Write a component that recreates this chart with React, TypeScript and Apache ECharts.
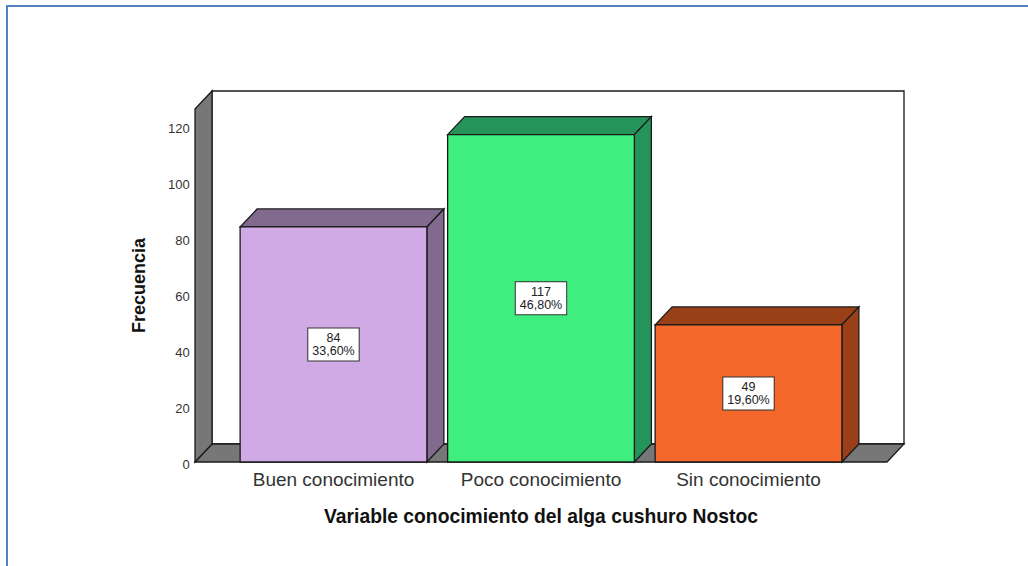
import React, { useEffect, useRef } from "react";
import * as echarts from "echarts";

const categories = ["Buen conocimiento", "Poco conocimiento", "Sin conocimiento"];
const counts = [84, 117, 49];
const percents = ["33,60%", "46,80%", "19,60%"];
const frontColors = ["#d0aae4", "#3fee7f", "#f4682b"];
const shadeColors = ["#816a8e", "#26935a", "#9a4018"];
const yTicks = [0, 20, 40, 60, 80, 100, 120];
const yMax = 126.16;
const xTitle = "Variable conocimiento del alga cushuro Nostoc";
const yTitle = "Frecuencia";

const DX = 17;
const DY = -18;
const FONT = '"Liberation Sans", Arial, sans-serif';
const EDGE = "#1a1a1a";
const WALL = "#777777";

export default function App() {
  const ref = useRef<HTMLDivElement>(null);
  useEffect(() => {
    const chart = echarts.init(ref.current!, null, { renderer: "svg" });
    const poly = (points: number[][], fill: string) => ({
      type: "polygon",
      shape: { points },
      style: { fill, stroke: EDGE, lineWidth: 1.3, lineJoin: "miter" },
    });
    chart.setOption({
      animation: false,
      backgroundColor: "#ffffff",
      graphic: [
        {
          type: "polyline",
          shape: { points: [[7, 566], [7, 6], [1028, 6]] },
          style: { stroke: "#4f81bd", lineWidth: 2, fill: "none" },
          silent: true,
        },
      ],
      grid: { left: 229.75, width: 622.5, top: 109, height: 353 },
      xAxis: {
        type: "category",
        data: categories,
        axisLine: { show: false },
        axisTick: { show: false },
        axisLabel: { fontFamily: FONT, fontSize: 19, color: "#333333", margin: 8, interval: 0, hideOverlap: false },
        name: xTitle,
        nameLocation: "middle",
        nameGap: 45,
        nameTextStyle: { fontFamily: FONT, fontSize: 19.3, fontWeight: "bold", color: "#111111" },
      },
      yAxis: {
        type: "value",
        min: 0,
        max: yMax,
        interval: 20,
        axisLine: { show: false },
        axisTick: { show: false },
        splitLine: { show: false },
        axisLabel: {
          fontFamily: FONT,
          fontSize: 13,
          color: "#333333",
          margin: 40,
          verticalAlign: "top",
          lineHeight: 5,
          showMaxLabel: false,
          formatter: (v: number) => (yTicks.includes(v) ? String(v) : ""),
        },
        name: yTitle,
        nameLocation: "middle",
        nameGap: 82,
        nameTextStyle: { fontFamily: FONT, fontSize: 18, fontWeight: "bold", color: "#111111" },
      },
      series: [
        {
          type: "custom",
          silent: true,
          z: 1,
          data: [[0, 0]],
          renderItem: (_p: any, api: any) => {
            const band = api.size([1, 0])[0];
            const base = api.coord([0, 0]);
            const top = api.coord([0, yMax]);
            const end = api.coord([categories.length - 1, 0]);
            const margin = 34.75;
            const l = base[0] - band / 2 - margin;
            const r = end[0] + band / 2 + margin;
            const b = base[1];
            const t = top[1];
            return {
              type: "group",
              children: [
                poly([[l + DX, t + DY], [r + DX, t + DY], [r + DX, b + DY], [l + DX, b + DY]], "#ffffff"),
                poly([[l, b], [l + DX, b + DY], [r + DX, b + DY], [r, b]], WALL),
                poly([[l, t], [l + DX, t + DY], [l + DX, b + DY], [l, b]], WALL),
              ],
            };
          },
        },
        {
          type: "custom",
          silent: true,
          z: 2,
          data: counts.map((v, i) => [i, v]),
          renderItem: (p: any, api: any) => {
            const i = p.dataIndex;
            const w = api.size([1, 0])[0] * 0.9;
            const pBase = api.coord([api.value(0), 0]);
            const pTop = api.coord([api.value(0), api.value(1)]);
            const pMid = api.coord([api.value(0), api.value(1) / 2]);
            const l = pBase[0] - w / 2;
            const r = pBase[0] + w / 2;
            const t = pTop[1];
            const b = pBase[1];
            return {
              type: "group",
              children: [
                poly([[l, t], [l + DX, t + DY], [r + DX, t + DY], [r, t]], shadeColors[i]),
                poly([[r, t], [r + DX, t + DY], [r + DX, b + DY], [r, b]], shadeColors[i]),
                poly([[l, t], [r, t], [r, b], [l, b]], frontColors[i]),
                {
                  type: "text",
                  z2: 10,
                  style: {
                    x: pMid[0],
                    y: pMid[1],
                    text: `${api.value(1)}\n${percents[i]}`,
                    align: "center",
                    verticalAlign: "middle",
                    font: `12.5px ${FONT}`,
                    lineHeight: 13,
                    fill: "#222222",
                    backgroundColor: "#ffffff",
                    borderColor: "#333333",
                    borderWidth: 1,
                    padding: [3, 4, 3, 4],
                  },
                },
              ],
            };
          },
        },
      ],
    });
    return () => chart.dispose();
  }, []);
  return <div ref={ref} style={{ position: "fixed", left: 0, top: 0, width: 1028, height: 566 }} />;
}
